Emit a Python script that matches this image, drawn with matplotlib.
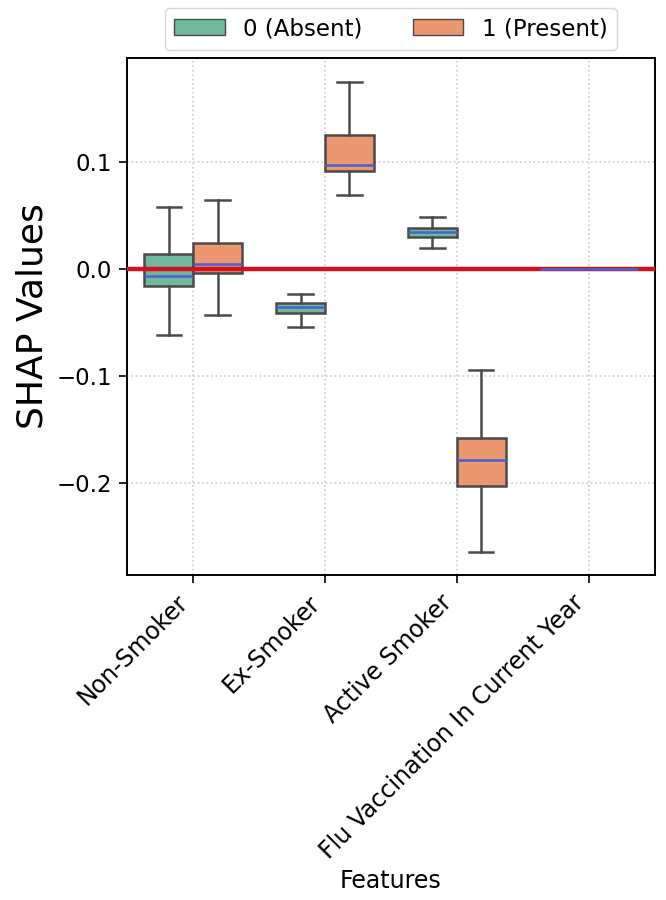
import matplotlib
matplotlib.use("Agg")
import matplotlib.pyplot as plt
from matplotlib.patches import Patch
import numpy as np

features = ["Non-Smoker", "Ex-Smoker", "Active Smoker", "Flu Vaccination In Current Year"]
hue_labels = ["0 (Absent)", "1 (Present)"]
hue_colors = ["#6fb89c", "#eb9770"]

# per feature: [whislo, q1, median, q3, whishi]
absent_stats = [
    [-0.062, -0.016, -0.0065, 0.014, 0.058],
    [-0.054, -0.041, -0.036, -0.032, -0.024],
    [0.0196, 0.030, 0.0345, 0.038, 0.0486],
    [0.0, 0.0, 0.0, 0.0, 0.0],
]
present_stats = [
    [-0.043, -0.004, 0.004, 0.024, 0.064],
    [0.069, 0.091, 0.097, 0.125, 0.174],
    [-0.264, -0.203, -0.179, -0.158, -0.095],
    [0.0, 0.0, 0.0, 0.0, 0.0],
]


def to_bxp(rows, label):
    out = []
    for lo, q1, med, q3, hi in rows:
        out.append({"whislo": lo, "q1": q1, "med": med, "q3": q3, "whishi": hi,
                    "fliers": [], "label": label})
    return out


fig = plt.figure(figsize=(6.66, 9), dpi=100)
ax = fig.add_axes([0.191, 0.361, 0.792, 0.575])

x = np.arange(len(features))
width = 0.37
for i, (rows, color) in enumerate(zip([absent_stats, present_stats], hue_colors)):
    pos = x + (i - 0.5) * width
    ax.bxp(to_bxp(rows, hue_labels[i]), positions=pos, widths=width, patch_artist=True,
           showfliers=False, manage_ticks=False,
           boxprops=dict(facecolor=color, edgecolor="#4a4a4a", linewidth=1.8, zorder=2),
           whiskerprops=dict(color="#4a4a4a", linewidth=1.8),
           capprops=dict(color="#4a4a4a", linewidth=1.8),
           medianprops=dict(color="#4a5fd0", linewidth=1.8, zorder=4))

ax.axhline(0, color="#d4101c", linewidth=3.2, zorder=3)

ax.set_xlim(-0.5, len(features) - 0.5)
ax.set_ylim(-0.286, 0.197)
ax.set_xticks(x)
ax.set_xticklabels(features, rotation=45, ha="right", fontsize=17)
ax.set_yticks([-0.2, -0.1, 0.0, 0.1])
ax.set_yticklabels(["\u22120.2", "\u22120.1", "0.0", "0.1"], fontsize=16.5)
ax.tick_params(axis="both", length=6, width=1.2, pad=5)
ax.grid(True, linestyle=":", color="#cccccc", linewidth=1.2)
ax.set_axisbelow(True)
for s in ax.spines.values():
    s.set_linewidth(1.4)

ax.set_ylabel("SHAP Values", fontsize=26, labelpad=5)
ax.set_xlabel("Features", fontsize=17)

handles = [Patch(facecolor=c, edgecolor="#4a4a4a", label=l) for c, l in zip(hue_colors, hue_labels)]
ax.legend(handles=handles, loc="lower center", bbox_to_anchor=(0.5, 1.0), ncol=2,
          fontsize=16.5, frameon=True, handlelength=2.2, columnspacing=2.2, borderaxespad=0.35)

fig.savefig("out.png", dpi=100)
